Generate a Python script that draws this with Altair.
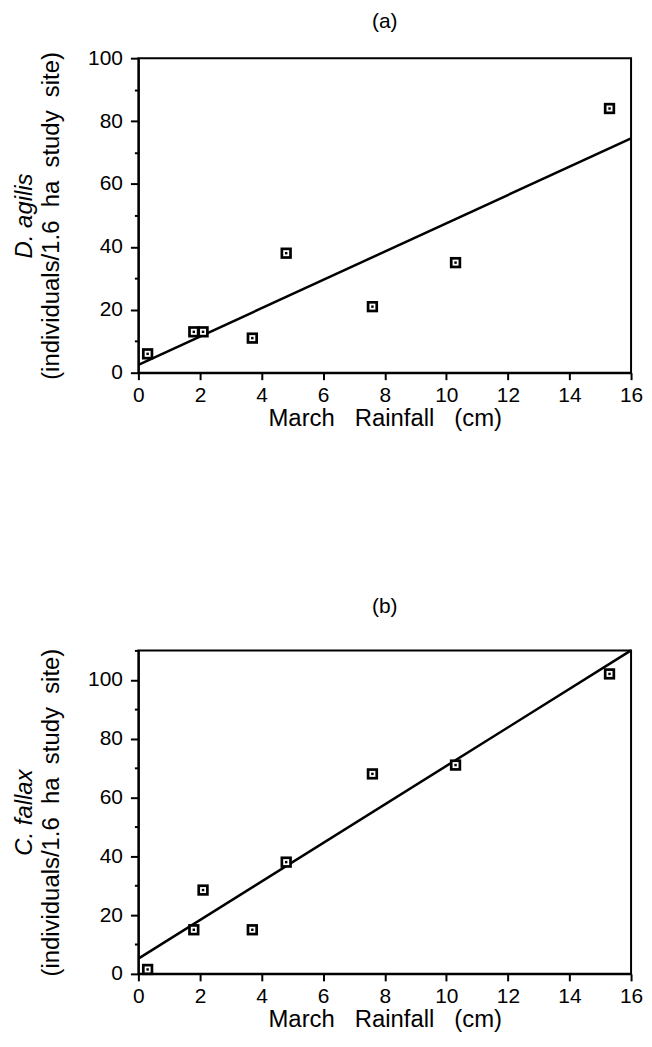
import altair as alt
import pandas as pd

# Data
rain = [0.3, 1.8, 2.1, 3.7, 4.8, 7.6, 10.3, 15.3]
d_agilis = [6, 13, 13, 11, 38, 21, 35, 84]
c_fallax = [1.5, 15, 28.5, 15, 38, 68, 71, 102]
fit_x = [0, 16]
fit_a = [2.5, 74.5]
fit_b = [5.2, 110]
x_ticks = list(range(0, 17))
ya_ticks = list(range(0, 101, 10))
yb_ticks = list(range(0, 111, 10))

FONT = "Liberation Sans"
NB = "\u00a0"
Y_TITLE = ("(individuals/1.6" + NB * 2 + "ha" + NB * 2 + "study" + NB * 2 + "site)")
X_TITLE = "March" + NB * 3 + "Rainfall" + NB * 3 + "(cm)"


def panel(yvals, fitvals, ymax, yticks, title, species, height, title_offset):
    pts = pd.DataFrame({"x": rain, "y": yvals})
    fit = pd.DataFrame({"x": fit_x, "y": fitvals})
    xscale = alt.Scale(domain=[0, 16], nice=False, zero=False)
    yscale = alt.Scale(domain=[0, ymax], nice=False, zero=False)
    xaxis = alt.Axis(
        values=x_ticks,
        labelExpr="datum.value % 2 == 0 ? datum.label : ''",
        tickSize={"condition": {"test": "datum.value % 2 == 0", "value": 7}, "value": 4},
        labelPadding=5,
        labelFontSize=21,
        title=X_TITLE,
        titlePadding=1,
        labelFlush=False,
        labelOverlap=False,
    )
    yaxis = alt.Axis(
        values=yticks,
        labelExpr="datum.value % 20 == 0 ? datum.label : ''",
        tickSize={"condition": {"test": "datum.value % 20 == 0", "value": 8}, "value": 4},
        labelPadding=8,
        labelFontSize=21,
        title=Y_TITLE,
        titlePadding=24,
        labelFlush=False,
        labelOverlap=False,
    )
    spaxis = alt.Axis(
        orient="left",
        title=species,
        titleFontStyle="italic",
        labels=False,
        ticks=False,
        domain=False,
        grid=False,
        offset=102,
        titlePadding=0,
    )
    base = alt.Chart(pts).encode(
        x=alt.X("x:Q", scale=xscale, axis=xaxis),
    )
    outer = base.mark_square(size=130, color="black", opacity=1).encode(
        y=alt.Y("y:Q", scale=yscale, axis=yaxis)
    )
    inner = base.mark_square(size=36, color="white", opacity=1).encode(
        y=alt.Y("y:Q", scale=yscale, axis=None)
    )
    dot = base.mark_square(size=6, color="black", opacity=1).encode(
        y=alt.Y("y:Q", scale=yscale, axis=None)
    )
    line = alt.Chart(fit).mark_line(color="black", strokeWidth=2.5).encode(
        x=alt.X("x:Q", scale=xscale),
        y=alt.Y("y:Q", scale=yscale, axis=spaxis),
    )
    return (
        alt.layer(outer, line, inner, dot)
        .resolve_axis(y="independent")
        .properties(
            width=495,
            height=height,
            title=alt.TitleParams(
                title, fontSize=21, font=FONT, fontWeight="normal",
                offset=title_offset, frame="group", anchor="middle", color="black",
            ),
        )
    )


pa = panel(d_agilis, fit_a, 100, ya_ticks, "(a)", "D. agilis", 316, 15)
pb = panel(c_fallax, fit_b, 110, yb_ticks, "(b)", "C. fallax", 325, 23)

chart = (
    alt.vconcat(pa, pb, spacing=164)
    .properties(padding={"left": 4, "top": 0, "right": 0, "bottom": 0}, background="white")
    .configure_view(stroke="black", strokeWidth=2)
    .configure_axis(
        domainColor="black",
        domainWidth=2,
        tickColor="black",
        tickWidth=2,
        labelColor="black",
        titleColor="black",
        labelFont=FONT,
        titleFont=FONT,
        titleFontSize=24,
        titleFontWeight="normal",
        grid=False,
    )
)

chart.save("out.html", embed_options={"renderer": "svg", "actions": False})
